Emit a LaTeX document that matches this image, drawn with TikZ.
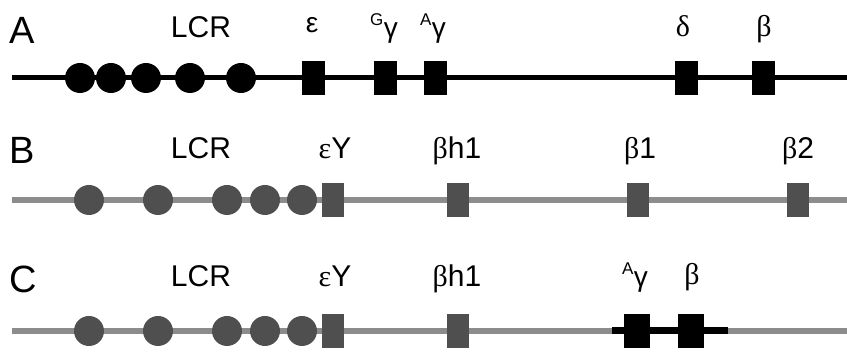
\documentclass[tikz,border=0pt]{standalone}
\usepackage{fontspec}
\setmainfont{Liberation Sans}
\newfontfamily\serifg{Liberation Serif}
\definecolor{lineGray}{HTML}{8C8C8C}
\definecolor{shapeGray}{HTML}{4F4F4F}
\newcommand{\supg}[1]{\raisebox{10pt}{\fontsize{17}{17}\selectfont #1}\kern0.5pt\raisebox{-2pt}{γ}}
\begin{document}
\begin{tikzpicture}[x=1pt,y=-1pt,
  blackline/.style={line width=5pt, black},
  grayline/.style={line width=6pt, lineGray},
  thickblack/.style={line width=7pt, black},
  lcrA/.style={circle, fill=black, minimum size=30pt, inner sep=0pt},
  geneA/.style={rectangle, fill=black, minimum width=23pt, minimum height=34pt, inner sep=0pt},
  lcrB/.style={circle, fill=shapeGray, minimum size=30pt, inner sep=0pt},
  geneB/.style={rectangle, fill=shapeGray, minimum width=22pt, minimum height=34pt, inner sep=0pt},
  rowlab/.style={anchor=base west, inner sep=0pt, font=\fontsize{38}{38}\selectfont},
  lab/.style={anchor=base, inner sep=0pt, font=\fontsize{30}{30}\selectfont},
  glab/.style={anchor=base, inner sep=0pt, font=\fontsize{30}{30}\selectfont\serifg},
  slab/.style={anchor=base, inner sep=0pt, font=\fontsize{28}{28}\selectfont},
]
\useasboundingbox (0,0) rectangle (847,352);
% ---------- Row A ----------
\coordinate (aS) at (12,78);
\coordinate (aE) at (847,78);
\draw[blackline] (aS) -- (aE);
\node[lcrA] (a1) at (80,78) {};
\node[lcrA] (a2) at (111,78) {};
\node[lcrA] (a3) at (146,78) {};
\node[lcrA] (a4) at (190,78) {};
\node[lcrA] (a5) at (241,78) {};
\node[geneA] (aeps) at (313,78) {};
\node[geneA] (aGg) at (385,78) {};
\node[geneA] (aAg) at (435,78) {};
\node[geneA] (adel) at (686,78) {};
\node[geneA] (abet) at (763,78) {};
\node[rowlab] (labA) at (9,44) {A};
\node[lab] (lcrLabA) at (201,38) {LCR};
\node[slab] (epsLabA) at (312,33) {ε};
\node[slab] (GgLabA) at (384,36) {\supg{G}};
\node[slab] (AgLabA) at (433,36) {\supg{A}};
\node[glab] (delLabA) at (683,37) {δ};
\node[glab] (betLabA) at (764,37) {β};
% ---------- Row B ----------
\coordinate (bS) at (12,200);
\coordinate (bE) at (847,200);
\draw[grayline] (bS) -- (bE);
\node[lcrB] (b1) at (89,200) {};
\node[lcrB] (b2) at (158,200) {};
\node[lcrB] (b3) at (227,200) {};
\node[lcrB] (b4) at (265,200) {};
\node[lcrB] (b5) at (302,200) {};
\node[geneB] (beY) at (333,200) {};
\node[geneB] (bbh) at (458,200) {};
\node[geneB] (bb1) at (638,200) {};
\node[geneB] (bb2) at (798,200) {};
\node[rowlab] (labB) at (9,164) {B};
\node[lab] (lcrLabB) at (201,159) {LCR};
\node[lab] (eYLabB) at (335,159) {{\serifg ε}Y};
\node[lab] (bhLabB) at (457,159) {{\serifg β}h1};
\node[lab] (b1LabB) at (640,159) {{\serifg β}1};
\node[lab] (b2LabB) at (798,159) {{\serifg β}2};
% ---------- Row C ----------
\coordinate (cS) at (12,331);
\coordinate (cE) at (847,331);
\coordinate (cK1) at (612,331);
\coordinate (cK2) at (728,331);
\draw[grayline] (cS) -- (cE);
\draw[thickblack] (cK1) -- (cK2);
\node[lcrB] (c1) at (89,331) {};
\node[lcrB] (c2) at (158,331) {};
\node[lcrB] (c3) at (227,331) {};
\node[lcrB] (c4) at (265,331) {};
\node[lcrB] (c5) at (302,331) {};
\node[geneB] (ceY) at (333,331) {};
\node[geneB] (cbh) at (458,331) {};
\node[geneA, minimum width=26pt] (cAg) at (637,331) {};
\node[geneA, minimum width=26pt] (cbet) at (691,331) {};
\node[rowlab] (labC) at (9,293) {C};
\node[lab] (lcrLabC) at (201,287) {LCR};
\node[lab] (eYLabC) at (335,287) {{\serifg ε}Y};
\node[lab] (bhLabC) at (457,287) {{\serifg β}h1};
\node[slab] (AgLabC) at (635,285) {\supg{A}};
\node[glab] (betLabC) at (692,285) {β};
\end{tikzpicture}
\end{document}
